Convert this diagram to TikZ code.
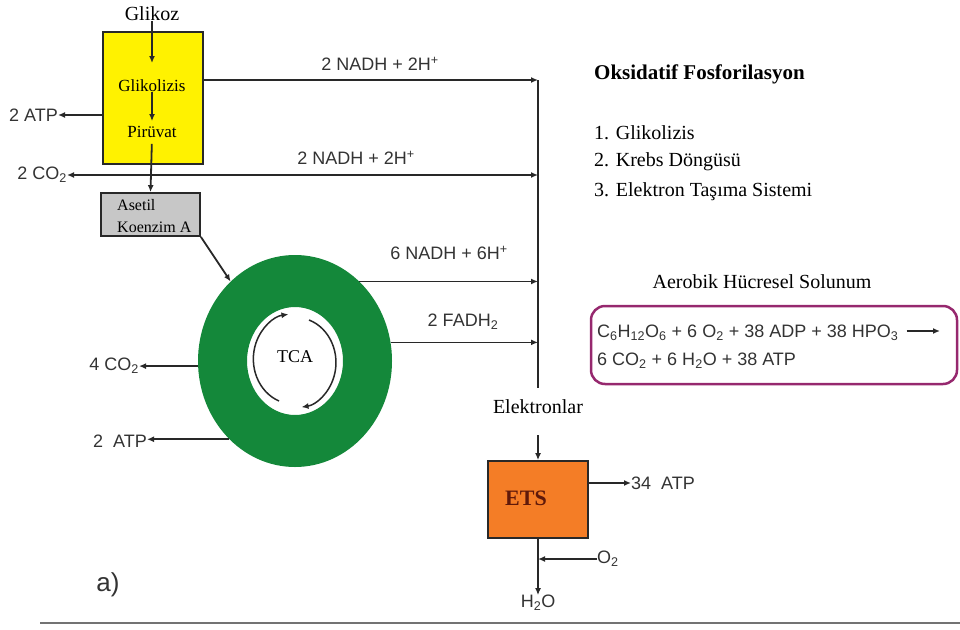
\documentclass[tikz,border=0pt]{standalone}
\usepackage{fontspec}
\setmainfont{Liberation Serif}
\setsansfont{Liberation Sans}
\usetikzlibrary{arrows.meta,shapes.geometric}
\definecolor{tcagreen}{RGB}{20,136,58}
\definecolor{etsorange}{RGB}{244,125,38}
\definecolor{etsbrown}{RGB}{95,25,10}
\definecolor{eqpurple}{RGB}{150,40,110}
\definecolor{linegray}{RGB}{40,40,40}
\tikzset{
  arr/.style={draw=linegray, line width=1.8pt, -{Latex[length=7pt,width=6pt]}},
  arrboth/.style={draw=linegray, line width=1.8pt, {Latex[length=7pt,width=6pt]}-{Latex[length=7pt,width=6pt]}},
  lbl/.style={inner sep=0pt, text=black!80, font=\sffamily\fontsize{18}{20}\selectfont},
  stxt/.style={inner sep=0pt, font=\fontsize{20}{23}\selectfont},
  boxtxt/.style={inner sep=0pt, font=\fontsize{17}{19}\selectfont},
}
\begin{document}
\begin{tikzpicture}[x=1pt,y=-1pt]
\useasboundingbox (0,0) rectangle (960,629);

% glikoliz
\node[draw=linegray, line width=1.8pt, fill=yellow, minimum width=100pt, minimum height=132pt] (glybox) at (153,98) {};
\node[stxt] (glikoz) at (152,14) {Glikoz};
\coordinate (glyin) at (152,63);
\node[boxtxt] (glikolizis) at (152,86) {Glikolizis};
\node[boxtxt] (piruvat) at (152,132) {Pirüvat};
\draw[arr] (glikoz.south) -- (glyin);
\draw[arr, shorten >=5pt] (glikolizis) -- (piruvat);

\node[draw=linegray, line width=1.8pt, fill=black!22, minimum width=99pt, minimum height=43pt] (asetil) at (150.5,214.5) {};
\node[boxtxt, font=\fontsize{16}{22}\selectfont, align=left, anchor=west] (asetiltxt) at (117,216) {Asetil\\Koenzim A};
\draw[arr, shorten <=6pt] (piruvat.south) -- (asetil.north);

\node[lbl, anchor=east] (atpa) at (58,115) {2 ATP};
\draw[arr] (glybox.west |- atpa) -- (atpa.east);

% elektron hatti
\coordinate (nadha) at (538,80);
\coordinate (nadhb) at (538,175);
\node[stxt] (elektron) at (538,407) {Elektronlar};
\draw[draw=linegray, line width=1.8pt] (nadha) -- (538,388);
\draw[arr] (glybox.east |- nadha) -- (nadha);
\node[lbl] at (380,64) {2 NADH + 2H\textsuperscript{+}};
\node[lbl, anchor=east] (co2a) at (67,175) {2 CO\textsubscript{2}};
\draw[arrboth] (co2a.east) -- (nadhb);
\node[lbl] at (356,158) {2 NADH + 2H\textsuperscript{+}};

% TCA halkasi
\node[ellipse, minimum width=194pt, minimum height=212pt, inner sep=0pt] (tcaring) at (295,361) {};
\fill[tcagreen, even odd rule] (295,361) ellipse [x radius=97, y radius=106]
  (295,361) ellipse [x radius=48, y radius=54];
\node[stxt, font=\fontsize{18}{20}\selectfont] (tca) at (295,357) {TCA};
\draw[arr, line width=1.5pt] (tca) ++(-16,44) arc[start angle=-249, end angle=-97, x radius=40, y radius=45];
\draw[arr, line width=1.5pt] (tca) ++(14,-37) arc[start angle=-71, end angle=82, x radius=40, y radius=45];
\draw[arr] (asetil.south east) -- (tcaring.129);

\draw[arr] (tcaring.51) -- (tcaring.51 -| nadha);
\node[lbl] at (449,253) {6 NADH + 6H\textsuperscript{+}};
\draw[arr] (tcaring.11) -- (tcaring.11 -| nadha);
\node[lbl] at (463,322) {2 FADH\textsubscript{2}};
\node[lbl, anchor=east] (co2b) at (139,366) {4 CO\textsubscript{2}};
\draw[arr] (tcaring.183) -- (tcaring.183 -| co2b.east);
\node[lbl, anchor=east] (atpb) at (147,441) {2\ \ ATP};
\draw[arr] (tcaring.230) -- (tcaring.230 -| atpb.east);

% ETS
\node[draw=linegray, line width=1.8pt, fill=etsorange, minimum width=100pt, minimum height=77pt] (ets) at (538,499.5) {};
\node[stxt, font=\bfseries\fontsize{22}{24}\selectfont, text=etsbrown] at (526,498) {ETS};
\draw[arr] ([yshift=-21pt]elektron.south) -- (ets.north);
\node[lbl, anchor=west] (atpc) at (631,483) {34\ \ ATP};
\draw[arr] (ets.east |- atpc) -- (atpc.west);
\node[lbl] (h2o) at (538,603) {H\textsubscript{2}O};
\draw[arr] (ets.south) -- (h2o.north);
\node[lbl, anchor=west] (otwo) at (597,559) {O\textsubscript{2}};
\draw[arr] (otwo.west) -- (otwo.west -| ets.south);

% sag taraf
\node[stxt, font=\bfseries\fontsize{21}{23}\selectfont, anchor=west] (baslik) at (594,74) {Oksidatif Fosforilasyon};
\node[stxt, anchor=west] (liste1) at (594,133) {1. Glikolizis};
\node[stxt, anchor=west] (liste2) at (594,162) {2. Krebs Döngüsü};
\node[stxt, anchor=west] (liste3) at (594,192) {3. Elektron Taşıma Sistemi};
\node[stxt] (aerobik) at (762,282) {Aerobik Hücresel Solunum};
\node[draw=eqpurple, line width=2.5pt, rounded corners=14pt, minimum width=366pt, minimum height=78pt] (denklem) at (774,345) {};
\node[lbl, anchor=west] (denklem1) at (597,333)
  {C\textsubscript{6}H\textsubscript{12}O\textsubscript{6} + 6 O\textsubscript{2} + 38 ADP + 38 HPO\textsubscript{3}};
\node[lbl, anchor=west] (denklem2) at (597,361)
  {6 CO\textsubscript{2} + 6 H\textsubscript{2}O + 38 ATP};
\coordinate (oktan) at (940,331);
\draw[arr] ([xshift=8pt]denklem1.east |- oktan) -- (oktan);

\node[lbl, font=\sffamily\fontsize{26}{28}\selectfont] (etiket) at (108,585) {a)};
\draw[black!55, line width=2pt] (40,623) -- (960,623);
\end{tikzpicture}
\end{document}
